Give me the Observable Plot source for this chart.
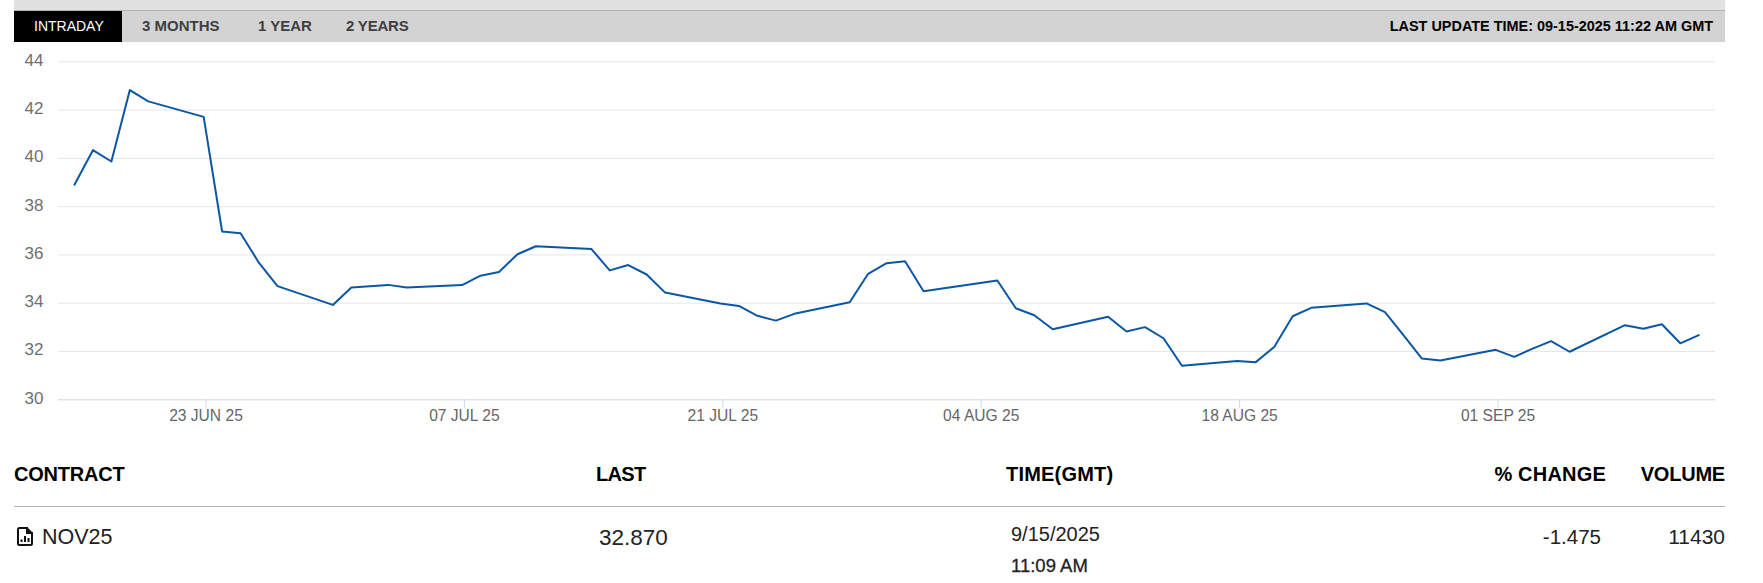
<!DOCTYPE html>
<html><head><meta charset="utf-8">
<script src="https://cdn.jsdelivr.net/npm/d3@7"></script>
<script src="https://cdn.jsdelivr.net/npm/@observablehq/plot@0.6"></script>
<style>
html,body{margin:0;padding:0;background:#fff;font-family:"Liberation Sans",Arial,sans-serif;overflow:hidden}
#page{position:relative;width:1763px;height:583px}
.a{position:absolute;white-space:nowrap}
#chart{position:absolute;left:0;top:42px}
.hd{font-weight:700;font-size:20px;color:#000;letter-spacing:-.2px}
.cell{font-size:21px;color:#222}
.tab{font-weight:700;font-size:15px;color:#3f3f3f;top:17px}
</style></head><body>
<div id="page">
<div class="a" style="left:14px;top:0;width:1711px;height:10px;background:#e1e1e1"></div>
<div class="a" style="left:14px;top:10px;width:1711px;height:1px;background:#b3b3b3"></div>
<div class="a" style="left:14px;top:11px;width:1711px;height:31px;background:#d3d3d3"></div>
<div class="a" style="left:14px;top:11px;width:108px;height:31px;background:#000"></div>
<div class="a tab" style="left:34px;color:#fff;font-weight:400;font-size:14px;top:18px">INTRADAY</div>
<div class="a tab" style="left:142px">3 MONTHS</div>
<div class="a tab" style="left:258px">1 YEAR</div>
<div class="a tab" style="left:346px;letter-spacing:-.2px">2 YEARS</div>
<div class="a tab" style="right:50px;color:#000;font-size:14.450px;top:18px">LAST UPDATE TIME: 09-15-2025 11:22 AM GMT</div>
<div id="chart"></div>
<div class="a hd" style="left:14px;top:463px">CONTRACT</div>
<div class="a hd" style="left:596px;top:463px;letter-spacing:-.7px">LAST</div>
<div class="a hd" style="left:1006px;top:463px;letter-spacing:.2px">TIME(GMT)</div>
<div class="a hd" style="right:157px;top:463px;letter-spacing:.2px">% CHANGE</div>
<div class="a hd" style="right:38px;top:463px">VOLUME</div>
<div class="a" style="left:14px;top:506px;width:1711px;height:1px;background:#b3b3b3"></div>
<svg class="a" style="left:17px;top:527px" width="16" height="19" viewBox="0 0 16 19"><path d="M1 2.500Q1 1 2.500 1H10V6H15V16.500Q15 18 13.500 18H2.500Q1 18 1 16.500Z" fill="none" stroke="#111" stroke-width="2"/><path d="M10 0L16 6H10z" fill="#111"/><path d="M4.500 15v-2.500M8 15v-6M11.500 15v-4" stroke="#111" stroke-width="2"/></svg>
<div class="a cell" style="left:42px;top:525px;font-size:21.500px">NOV25</div>
<div class="a cell" style="left:599px;top:525px;font-size:22.500px">32.870</div>
<div class="a cell" style="left:1011px;top:523px;font-size:20px">9/15/2025</div>
<div class="a cell" style="left:1011px;top:555px;font-size:18.500px;-webkit-text-stroke:.3px #222">11:09 AM</div>
<div class="a cell" style="right:162px;top:525px;font-size:20.500px">-1.475</div>
<div class="a cell" style="right:38px;top:525px">11430</div>
</div>
<script>
const dates = ["2025-06-16","2025-06-17","2025-06-18","2025-06-19","2025-06-20","2025-06-23","2025-06-24","2025-06-25","2025-06-26","2025-06-27","2025-06-30","2025-07-01","2025-07-02","2025-07-03","2025-07-04","2025-07-07","2025-07-08","2025-07-09","2025-07-10","2025-07-11","2025-07-14","2025-07-15","2025-07-16","2025-07-17","2025-07-18","2025-07-21","2025-07-22","2025-07-23","2025-07-24","2025-07-25","2025-07-28","2025-07-29","2025-07-30","2025-07-31","2025-08-01","2025-08-05","2025-08-06","2025-08-07","2025-08-08","2025-08-11","2025-08-12","2025-08-13","2025-08-14","2025-08-15","2025-08-18","2025-08-19","2025-08-20","2025-08-21","2025-08-22","2025-08-25","2025-08-26","2025-08-27","2025-08-28","2025-08-29","2025-09-01","2025-09-02","2025-09-03","2025-09-04","2025-09-05","2025-09-08","2025-09-09","2025-09-10","2025-09-11","2025-09-12"];
const prices = [38.91,40.34,39.87,42.83,42.36,41.72,36.97,36.90,35.67,34.71,33.93,34.65,34.70,34.76,34.65,34.75,35.14,35.29,36.03,36.36,36.25,35.36,35.58,35.19,34.44,33.99,33.89,33.48,33.28,33.56,34.04,35.22,35.66,35.74,34.50,34.94,33.79,33.50,32.92,33.44,32.83,33.01,32.55,31.41,31.61,31.56,32.19,33.46,33.81,33.99,33.63,32.68,31.71,31.63,32.07,31.78,32.12,32.43,31.99,33.09,32.94,33.13,32.34,32.68];
const yTicks = [30,32,34,36,38,40,42,44];
const xTicks = ["2025-06-23","2025-07-07","2025-07-21","2025-08-04","2025-08-18","2025-09-01"].map(d=>new Date(d));
const xDomain = [new Date("2025-06-15T00:15Z"), new Date("2025-09-12T18:45Z")];
const rows = dates.map((d,i)=>({date:new Date(d+"T00:00+03:00"),price:prices[i]}));
const fmt = d3.utcFormat("%d %b %y");
const chart = Plot.plot({
  width:1763,height:400,marginLeft:58,marginRight:48,marginTop:19.300,marginBottom:42.700,
  style:{fontFamily:"Liberation Sans, Arial, sans-serif",background:"transparent",overflow:"visible"},
  x:{type:"utc",domain:xDomain},
  y:{domain:[30,44]},
  marks:[
    Plot.ruleY(yTicks.slice(1),{stroke:"#e6e6e6",strokeWidth:1,strokeOpacity:1}),
    Plot.ruleY([30],{stroke:"#ccd6eb",strokeWidth:1,strokeOpacity:1}),
    Plot.axisY({ticks:yTicks,tickSize:0,tickPadding:15,label:null,fontSize:17,fill:"#707070",anchor:"left",dy:-1.500}),
    Plot.axisX({ticks:xTicks,tickSize:9,tickPadding:1,label:null,fontSize:15.600,fill:"#666",stroke:"#ccd6eb",strokeOpacity:1,tickFormat:d=>fmt(d).toUpperCase(),anchor:"bottom"}),
    Plot.line(rows,{x:"date",y:"price",stroke:"#0b57a4",strokeWidth:2,curve:"linear"})
  ]
});
document.getElementById("chart").appendChild(chart);
</script>
</body></html>
